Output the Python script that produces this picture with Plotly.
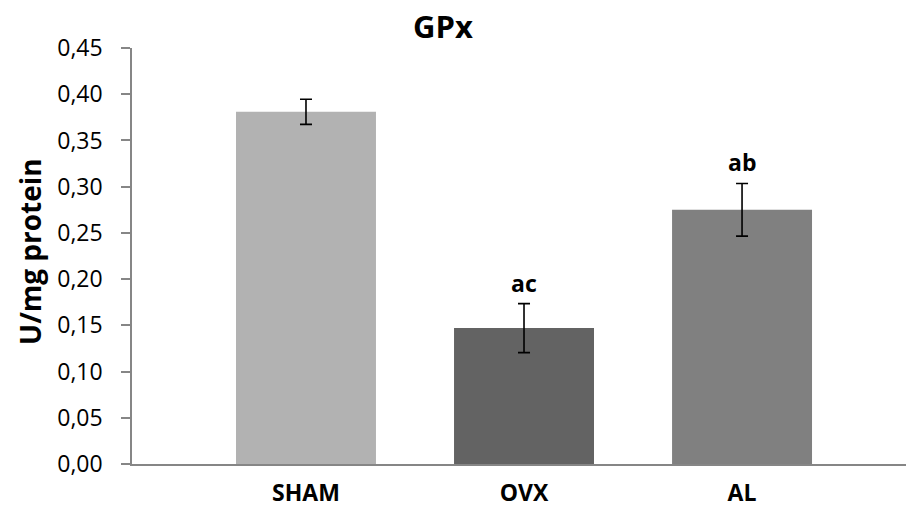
import plotly.graph_objects as go

categories = ["SHAM", "OVX", "AL"]
means = [0.381, 0.147, 0.275]
sem = [0.0136, 0.0265, 0.0285]
letters = ["", "ac", "ab"]
bar_colors = ["#B2B2B2", "#636363", "#808080"]
y_ticks = [0.0, 0.05, 0.10, 0.15, 0.20, 0.25, 0.30, 0.35, 0.40, 0.45]
y_tick_text = ["0,00", "0,05", "0,10", "0,15", "0,20", "0,25", "0,30", "0,35", "0,40", "0,45"]

FONT = "Open Sans"

fig = go.Figure()
fig.add_trace(go.Bar(
    x=categories, y=means, width=0.642,
    marker=dict(color=bar_colors, line=dict(width=0)),
    error_y=dict(type="data", array=sem, visible=True, color="black",
                 thickness=1.6, width=6),
    hoverinfo="skip",
))

for c, m, e, lab in zip(categories, means, sem, letters):
    if lab:
        fig.add_annotation(x=c, y=m + e, text="<b>%s</b>" % lab, showarrow=False,
                           yanchor="middle", yshift=21,
                           font=dict(family=FONT, size=23, color="black"))

fig.add_annotation(xref="paper", yref="paper", x=-0.1318, y=0.512,
                   text="<b>U/mg protein</b>", textangle=-90, showarrow=False,
                   xanchor="center", yanchor="middle",
                   font=dict(family=FONT, size=28, color="black"))

fig.update_layout(
    width=906, height=508,
    margin=dict(l=132, r=0, t=48, b=44),
    paper_bgcolor="white", plot_bgcolor="white",
    showlegend=False,
    title=dict(text="<b>GPx</b>", x=443/906, xanchor="center",
               y=1 - 27/508, yanchor="middle",
               font=dict(family=FONT, size=31, color="black")),
    xaxis=dict(type="category", range=[-0.798, 2.752],
               showline=True, linecolor="#868686", linewidth=1.5,
               ticks="", showgrid=False, zeroline=False,
               tickfont=dict(family=FONT, size=23, color="black"),
               ticklabelstandoff=8,
               tickvals=categories,
               ticktext=["<b>%s</b>" % c for c in categories]),
    yaxis=dict(range=[0, 0.45], tickvals=y_ticks, ticktext=y_tick_text,
               showline=True, linecolor="#868686", linewidth=1.5,
               ticks="outside", ticklen=9, tickcolor="#868686", tickwidth=1.5,
               showgrid=False, zeroline=False,
               tickfont=dict(family=FONT, size=23, color="black"),
               ticklabelstandoff=14),
)

fig.write_html("out.html")
